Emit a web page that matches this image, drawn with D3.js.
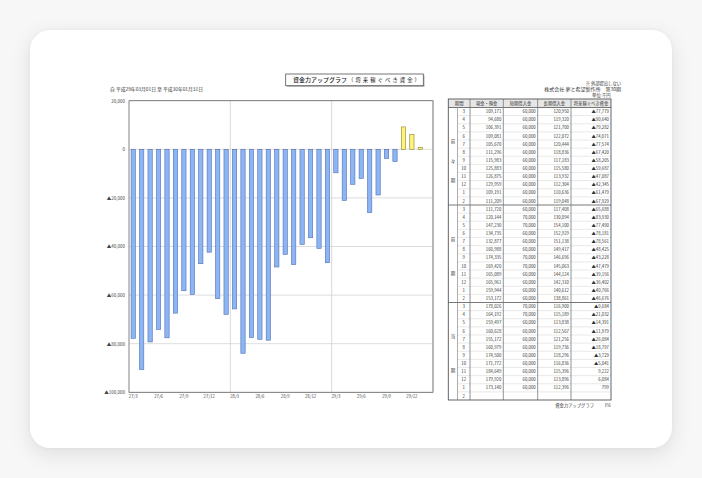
<!DOCTYPE html>
<html><head><meta charset="utf-8">
<script src="https://cdn.jsdelivr.net/npm/d3@7"></script>
<style>
html,body{margin:0;padding:0;width:702px;height:478px;overflow:hidden;background:#f7f7f7;}
#card{position:absolute;left:30px;top:30px;width:642px;height:418px;border-radius:20px;background:#fff;box-shadow:0 6px 22px rgba(0,0,0,0.10),0 0 5px rgba(0,0,0,0.04);}
svg{position:absolute;left:0;top:0;}
text{font-family:"Noto Sans CJK JP","Noto Sans",sans-serif;}
</style></head><body><div id="card"></div><svg id="c" width="702" height="478"></svg>
<script>
// ---------- data ----------
const categories = [
 "27/3","27/4","27/5","27/6","27/7","27/8","27/9","27/10","27/11","27/12","28/1","28/2",
 "28/3","28/4","28/5","28/6","28/7","28/8","28/9","28/10","28/11","28/12","29/1","29/2",
 "29/3","29/4","29/5","29/6","29/7","29/8","29/9","29/10","29/11","29/12","30/1","30/2"];
const xTickLabels = ["27/3","27/6","27/9","27/12","28/3","28/6","28/9","28/12","29/3","29/6","29/9","29/12"];
const yTicks = [20000, 0, -20000, -40000, -60000, -80000, -100000];
const months = ["3","4","5","6","7","8","9","10","11","12","1","2"];
const periods = ["前々期","前期","当期"];
const headers = ["期間","現金・預金","短期借入金","長期借入金","将来稼ぐべき資金"];
const futureFunds = [
 -77779,-90640,-79282,-74071,-77574,-67420,-58205,-59687,-47087,-42345,-61479,-67929,
 -65688,-83930,-77490,-78181,-78561,-48425,-43228,-47479,-39156,-36402,-40766,-46676,
 -9684,-21032,-14391,-11979,-26084,-18797,-3729,-5041,9222,6084,799,null];
const cashDeposits = [
 109171,94680,106391,109081,105670,111296,115983,125883,126875,129959,109191,111209,
 111720,120144,147230,134735,132877,160988,174335,169420,165089,165961,159944,153172,
 178026,164192,159497,160628,155172,160979,174500,171772,184649,179920,173140,null];
const shortLoans = [
 60000,60000,60000,60000,60000,60000,60000,60000,60000,60000,60000,60000,
 60000,70000,70000,60000,60000,60000,70000,70000,60000,60000,60000,60000,
 70000,70000,60000,60000,60000,60000,60000,60000,60000,60000,60000,null];
const longLoans = [
 120950,119320,121700,122072,120444,118836,117183,115580,113932,112304,110636,119048,
 117408,130094,154100,152929,151138,149417,146696,145063,144124,142310,140612,138861,
 116900,115189,113838,112567,121256,119736,118296,116836,115396,113896,112396,null];

// ---------- helpers ----------
const svg = d3.select("#c");
const num = d3.format(",");
const signed = v => v < 0 ? "▲" + num(-v) : num(v);
const FONT = '"Noto Sans CJK JP","Noto Sans",sans-serif';

// ---------- chart ----------
const plot = {l:129, r:433, t:100.7, b:392.3};
const x = d3.scaleBand().domain(categories).range([plot.l, plot.r]).paddingInner(0.49).paddingOuter(0.245);
const y = d3.scaleLinear().domain([-100000, 20000]).range([plot.b, plot.t]);

svg.append("g").selectAll("line").data(yTicks).join("line")
  .attr("x1", plot.l).attr("x2", plot.r).attr("y1", d => y(d)).attr("y2", d => y(d))
  .attr("stroke", "#d4d4d4").attr("stroke-width", 0.8);
svg.append("g").selectAll("line").data([categories[12], categories[24]]).join("line")
  .attr("x1", d => x(d) - x.step()*x.paddingOuter()).attr("x2", d => x(d) - x.step()*x.paddingOuter())
  .attr("y1", plot.t).attr("y2", plot.b).attr("stroke", "#cfcfcf").attr("stroke-width", 0.8);

const barData = categories.map((c, i) => ({c, v: futureFunds[i]})).filter(d => d.v != null);
svg.append("g").selectAll("rect").data(barData).join("rect")
  .attr("x", d => x(d.c)).attr("width", x.bandwidth())
  .attr("y", d => y(Math.max(0, d.v))).attr("height", d => Math.abs(y(d.v) - y(0)))
  .attr("fill", d => d.v < 0 ? "#8db5f3" : "#fcf37c")
  .attr("stroke", d => d.v < 0 ? "#4d6fb5" : "#8a8232").attr("stroke-width", 0.6);

svg.append("rect").attr("x", plot.l).attr("y", plot.t).attr("width", plot.r - plot.l).attr("height", plot.b - plot.t)
  .attr("fill", "none").attr("stroke", "#666").attr("stroke-width", 0.8);
svg.append("line").attr("x1", plot.r).attr("x2", plot.r).attr("y1", plot.t).attr("y2", plot.b)
  .attr("stroke", "#aaa").attr("stroke-width", 0.9);

const yAx = svg.append("g").attr("transform", `translate(${plot.l},0)`)
  .call(d3.axisLeft(y).tickValues(yTicks).tickSize(0).tickPadding(4).tickFormat(signed));
yAx.select(".domain").remove();
yAx.attr("font-family", FONT).attr("font-size", 4.5);
yAx.selectAll("text").attr("fill", "#444");

const xAx = svg.append("g").attr("transform", `translate(0,${plot.b})`)
  .call(d3.axisBottom(x).tickValues(xTickLabels).tickSize(0).tickPadding(2.5));
xAx.select(".domain").remove();
xAx.attr("font-family", FONT).attr("font-size", 4.3);
xAx.selectAll("text").attr("fill", "#444");

// title box
svg.append("rect").attr("x", 287).attr("y", 75.3).attr("width", 137.6).attr("height", 11.7).attr("fill", "#bbb");
svg.append("rect").attr("x", 285.7).attr("y", 74).attr("width", 137.6).attr("height", 11.7)
  .attr("fill", "#fff").attr("stroke", "#555").attr("stroke-width", 0.8);
svg.append("text").attr("x", 293).attr("y", 80).attr("dy", "0.36em").attr("font-size", 6)
  .attr("textLength", 54).attr("lengthAdjust", "spacingAndGlyphs").attr("fill", "#222").attr("font-weight", 500)
  .text("資金力アップグラフ");
svg.append("text").attr("x", 348).attr("y", 80).attr("dy", "0.36em").attr("font-size", 5.4)
  .attr("textLength", 72).attr("lengthAdjust", "spacing").attr("fill", "#222")
  .text("（将来稼ぐべき資金）");

svg.append("text").attr("x", 110).attr("y", 89).attr("dy", "0.35em").attr("font-size", 4.8)
  .attr("textLength", 93).attr("lengthAdjust", "spacingAndGlyphs").attr("fill", "#333")
  .text("自 平成29年03月01日 至 平成30年01月31日");

// top right notes
svg.append("text").attr("x", 621).attr("y", 83.3).attr("dy", "0.35em").attr("text-anchor", "end")
  .attr("font-size", 4.3).attr("fill", "#333").text("※ 外部提出しない");
svg.append("text").attr("x", 621).attr("y", 89.5).attr("dy", "0.35em").attr("text-anchor", "end")
  .attr("font-size", 5).attr("fill", "#333").text("株式会社 夢と希望製作所　第30期");
svg.append("text").attr("x", 610.5).attr("y", 95.8).attr("dy", "0.35em").attr("text-anchor", "end")
  .attr("font-size", 4.3).attr("fill", "#333").text("単位:千円");

// ---------- table ----------
const T = {l:448.3, r:611, top:99, headB:107.5, bottom:400};
const colEdges = [448.3, 457.5, 470, 503.3, 537.7, 571, 611];
const rowY = d3.scaleBand().domain(d3.range(36)).range([T.headB, T.bottom]);
const tg = svg.append("g").attr("font-family", FONT).attr("fill", "#333");

tg.append("rect").attr("x", T.l).attr("y", T.top).attr("width", T.r - T.l).attr("height", T.headB - T.top).attr("fill", "#e6e6e6");
// row lines
tg.append("g").selectAll("line").data(d3.range(1, 36).filter(i => i % 12 !== 0)).join("line")
  .attr("x1", colEdges[1]).attr("x2", T.r).attr("y1", i => rowY(i)).attr("y2", i => rowY(i))
  .attr("stroke", "#d2d2d2").attr("stroke-width", 0.5);
// block separators
tg.append("g").selectAll("line").data([0, 12, 24]).join("line")
  .attr("x1", T.l).attr("x2", T.r).attr("y1", i => rowY(i)).attr("y2", i => rowY(i))
  .attr("stroke", "#555").attr("stroke-width", 0.8);
// column lines
tg.append("line").attr("x1", colEdges[1]).attr("x2", colEdges[1]).attr("y1", T.headB).attr("y2", T.bottom)
  .attr("stroke", "#777").attr("stroke-width", 0.6);
tg.append("g").selectAll("line").data(colEdges.slice(2, 6)).join("line")
  .attr("x1", d => d).attr("x2", d => d).attr("y1", T.top).attr("y2", T.bottom)
  .attr("stroke", "#777").attr("stroke-width", 0.8);
tg.append("rect").attr("x", T.l).attr("y", T.top).attr("width", T.r - T.l).attr("height", T.bottom - T.top)
  .attr("fill", "none").attr("stroke", "#555").attr("stroke-width", 0.9);

// header text
const headCenters = [(colEdges[0] + colEdges[2]) / 2, (colEdges[2] + colEdges[3]) / 2, (colEdges[3] + colEdges[4]) / 2,
  (colEdges[4] + colEdges[5]) / 2, (colEdges[5] + colEdges[6]) / 2];
tg.append("g").selectAll("text").data(headers).join("text")
  .attr("x", (d, i) => headCenters[i]).attr("y", (T.top + T.headB) / 2).attr("dy", "0.36em")
  .attr("text-anchor", "middle").attr("font-size", 4.3).text(d => d);

// period vertical labels
periods.forEach((p, pi) => {
  const chars = Array.from(p);
  const fr = chars.length === 3 ? [0.35, 0.55, 0.75] : [0.35, 0.7];
  const top = rowY(pi * 12), h = rowY.step() * 12;
  tg.append("g").selectAll("text").data(chars).join("text")
    .attr("x", (colEdges[0] + colEdges[1]) / 2).attr("y", (d, k) => top + h * fr[k]).attr("dy", "0.36em")
    .attr("text-anchor", "middle").attr("font-size", 4.5).text(d => d);
});

// rows
const rows = d3.range(36).map(i => ({i, m: months[i % 12], cash: cashDeposits[i], s: shortLoans[i], l: longLoans[i], f: futureFunds[i]}));
const rowG = tg.append("g").selectAll("g").data(rows).join("g")
  .attr("transform", d => `translate(0,${rowY(d.i) + rowY.step() / 2})`);
rowG.append("text").attr("x", (colEdges[1] + colEdges[2]) / 2).attr("dy", "0.36em").attr("text-anchor", "middle")
  .attr("font-size", 4.3).text(d => d.m);
const cols = [["cash", 3], ["s", 4], ["l", 5], ["f", 6]];
cols.forEach(([k, e]) => {
  rowG.append("text").attr("x", colEdges[e] - 2).attr("dy", "0.36em").attr("text-anchor", "end")
    .attr("font-size", 4.3).text(d => d[k] == null ? "" : (k === "f" ? signed(d[k]) : num(d[k])));
});

// footer
svg.append("text").attr("x", 594).attr("y", 405.7).attr("dy", "0.35em").attr("text-anchor", "end")
  .attr("font-size", 4.3).attr("fill", "#333").attr("font-family", FONT).text("資金力アップグラフ");
svg.append("text").attr("x", 610.7).attr("y", 405.7).attr("dy", "0.35em").attr("text-anchor", "end")
  .attr("font-size", 4.3).attr("fill", "#333").attr("font-family", FONT).text("P.6");
</script></body></html>
